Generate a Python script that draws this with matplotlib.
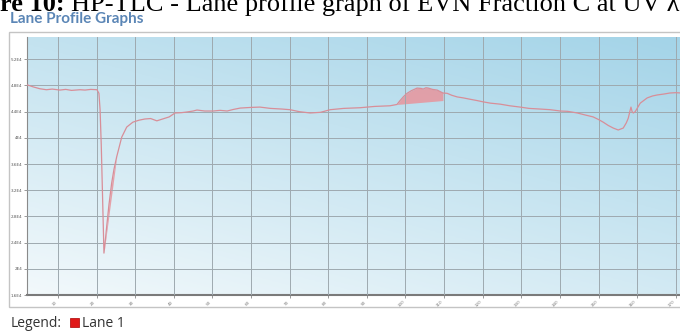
# lane profile of lane 1 from the HP-TLC plate, drawn as a densitometry trace

import matplotlib.pyplot as plt
from matplotlib.patches import Rectangle
import numpy as np

# migration distance along the lane (mm) and the measured intensity
pos = [2.0, 3.5, 5.3, 7.0, 8.5, 10.5, 12.0, 13.5, 15.7, 17.0, 18.5, 20.1,
       20.6, 20.9, 21.2, 21.5, 21.9, 22.2, 22.6, 23.2, 23.9, 24.5, 25.2,
       26.5, 27.8, 29.4, 31.0, 32.5, 34.0, 35.6, 37.2, 38.8, 40.3, 42.0,
       43.4, 45.0, 46.0, 48.0, 50.2, 52.0, 53.8, 55.5, 57.2, 60.0, 62.3,
       65.0, 68.0, 70.1, 72.5, 75.3, 78.0, 80.5, 84.0, 88.2, 92.0, 96.0,
       97.8, 98.6, 99.5, 100.4, 101.5, 103.0, 104.0, 104.6, 105.3, 105.9,
       107.0, 108.2, 109.7, 110.8, 112.0, 113.4, 115.0, 116.7, 118.5, 120.1,
       122.0, 124.5, 127.0, 129.7, 132.0, 134.9, 137.5, 140.1, 142.0, 144.5,
       146.5, 148.6, 150.0, 151.2, 152.5, 153.8, 155.1, 156.4, 157.2, 157.7,
       158.1, 158.4, 158.7, 159.0, 159.5, 160.8, 162.6, 164.0, 165.2, 167.0,
       168.5, 170.0, 171.5]
intensity = [48100, 47800, 47500, 47350, 47450, 47300, 47400, 47250, 47350, 47300, 47400, 47350,
             46800, 44300, 39000, 32000, 22400, 24000, 26400, 29800, 33100, 35200, 37100,
             40100, 41650, 42400, 42700, 42880, 42950, 42600, 42900, 43200, 43800, 43850,
             43950, 44100, 44250, 44100, 44100, 44200, 44100, 44350, 44550, 44650, 44700,
             44500, 44400, 44300, 44000, 43800, 43900, 44300, 44500, 44600, 44800, 44900,
             45100, 45700, 46300, 46800, 47200, 47600, 47550, 47450, 47650, 47600,
             47400, 47300, 46850, 46800, 46500, 46250, 46100, 45900, 45700, 45500,
             45300, 45150, 44900, 44700, 44500, 44400, 44300, 44100, 44050, 43800,
             43500, 43200, 42800, 42400, 41900, 41500, 41200, 41500, 42300, 43000,
             44000, 44700, 44000, 43800, 44000, 45300, 46100, 46400, 46550, 46700,
             46850, 46900, 46850]

# integrated regions: (start, end, baseline at start, baseline at end)
peaks = [(21.9, 25.2, 22400, 37100),
         (97.8, 109.7, 45100, 45700)]

yticks = [16000, 20000, 24000, 28000, 32000, 36000, 40000, 44000, 48000, 52000]
ylabels = ['1.6E4', '2E4', '2.4E4', '2.8E4', '3.2E4', '3.6E4', '4E4', '4.4E4', '4.8E4', '5.2E4']
xticks = [10, 20, 30, 40, 50, 60, 70, 80, 90, 100, 110, 120, 130, 140, 150, 160, 170]

pos = np.array(pos)
intensity = np.array(intensity)

fig = plt.figure(figsize=(6.8, 3.32), dpi=100)

# caption of the figure, cut off at the top edge
fig.text(0.0, 0.967, 're 10:', fontsize=19, fontweight='bold', family='Liberation Serif', va='baseline')
fig.text(0.104, 0.967, 'HP-TLC - Lane profile graph of EVN Fraction C at UV \u03bb', fontsize=19,
         family='Liberation Serif', va='baseline')

fig.text(0.015, 0.943, 'Lane Profile Graphs', fontsize=11, fontweight='bold', family='Lato',
         color='#5b86b6', va='center')

# outer panel frame, kept behind the axes
frame = Rectangle((0.0132, 0.0753), 1.2, 0.828, transform=fig.transFigure,
                  facecolor='white', edgecolor='#c4c4c4', lw=1.0, zorder=-5)
fig.patches.append(frame)

ax = fig.add_axes([0.0397, 0.1114, 0.9603, 0.7771])
ax.set_zorder(1)

# background gradient, near white at the bottom left and blue to the top right
gx = np.linspace(0, 1, 200)
gy = np.linspace(0, 1, 100)
GX, GY = np.meshgrid(gx, gy)
t = np.clip(0.6 * GY + 0.4 * GX, 0, 1)
c0 = np.array([0.95, 0.975, 0.985])
c1 = np.array([0.64, 0.83, 0.91])
img = c0 + (c1 - c0) * t[..., None]
ax.imshow(img, extent=[0, 1, 0, 1], transform=ax.transAxes, origin='lower', aspect='auto', zorder=0)
ax.set_xlim(1.97, 171.1)
ax.set_ylim(16000, 55400)

ax.set_yticks(yticks)
ax.set_yticklabels(ylabels, fontsize=3, color='#555555')
ax.set_xticks(xticks)
ax.set_xticklabels([str(v) for v in xticks], fontsize=3, color='#777777', rotation=45, ha='right')
ax.tick_params(axis='both', length=2, width=0.6, color='#888888', pad=1.5)
ax.grid(True, color='#9ea9af', lw=0.7, zorder=1)
ax.set_axisbelow(False)

for s in ['top', 'right']:
    ax.spines[s].set_visible(False)
ax.spines['left'].set_color('#8a8a8a')
ax.spines['bottom'].set_color('#7a7a7a')
ax.spines['bottom'].set_linewidth(1.5)

# shaded areas between the trace and each baseline
for x0, x1, b0, b1 in peaks:
    m = (pos >= x0) & (pos <= x1)
    xs = pos[m]
    base = b0 + (b1 - b0) * (xs - x0) / (x1 - x0)
    ax.fill_between(xs, base, intensity[m], color='#e8949c', alpha=0.85, lw=0, zorder=2)

ax.plot(pos, intensity, color='#d88e98', lw=0.9, zorder=3)

fig.text(0.015, 0.027, 'Legend:', fontsize=10, family='Open Sans', color='#333333', va='center')
fig.patches.append(Rectangle((0.103, 0.015), 0.0135, 0.028, transform=fig.transFigure,
                             facecolor='#e01818', edgecolor='#a00', lw=0.5))
fig.text(0.121, 0.027, 'Lane 1', fontsize=10, family='Open Sans', color='#333333', va='center')

plt.savefig('out.png', dpi=100)
